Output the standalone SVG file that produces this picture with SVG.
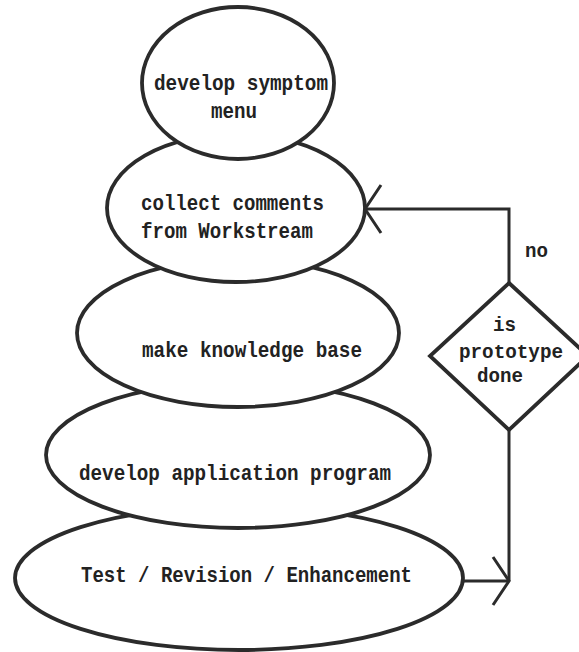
<svg xmlns="http://www.w3.org/2000/svg" width="579" height="652" viewBox="0 0 579 652">
  <style>
    .shape { fill: #ffffff; stroke: #2b2b2b; stroke-width: 3.8; }
    .line { fill: none; stroke: #2b2b2b; stroke-width: 3; }
    .label { font-family: "Liberation Mono", "Courier New", monospace; font-weight: bold; font-size: 22px; fill: #222222; }
    .small { font-size: 20px; }
  </style>
  <defs>
    <marker id="chevron" markerUnits="userSpaceOnUse" viewBox="-20 -30 24 60" refX="0" refY="0" markerWidth="24" markerHeight="60" orient="auto" overflow="visible">
      <path d="M-16,-24 L0,0 L-16,24" fill="none" stroke="#2b2b2b" stroke-width="3"/>
    </marker>
  </defs>

  <!-- stacked ellipses, lowest first so the upper ones sit on top -->
  <g id="node-test">
    <ellipse class="shape" cx="239" cy="578" rx="224" ry="72"/>
    <text class="label" x="81" y="582" textLength="331" lengthAdjust="spacingAndGlyphs">Test / Revision / Enhancement</text>
  </g>
  <g id="node-application">
    <ellipse class="shape" cx="238" cy="455" rx="192" ry="73"/>
    <text class="label" x="79" y="480" textLength="312" lengthAdjust="spacingAndGlyphs">develop application program</text>
  </g>
  <g id="node-knowledge">
    <ellipse class="shape" cx="238" cy="333" rx="161" ry="74"/>
    <text class="label" x="142" y="357" textLength="220" lengthAdjust="spacingAndGlyphs">make knowledge base</text>
  </g>
  <g id="node-comments">
    <ellipse class="shape" cx="236" cy="208" rx="129" ry="74"/>
    <text class="label" x="141" y="210" textLength="183" lengthAdjust="spacingAndGlyphs">collect comments</text>
    <text class="label" x="141" y="238" textLength="172" lengthAdjust="spacingAndGlyphs">from Workstream</text>
  </g>
  <g id="node-symptom">
    <ellipse class="shape" cx="238" cy="83" rx="96" ry="76"/>
    <text class="label" x="154" y="90" textLength="174" lengthAdjust="spacingAndGlyphs">develop symptom</text>
    <text class="label" x="211" y="118" textLength="46" lengthAdjust="spacingAndGlyphs">menu</text>
  </g>

  <!-- decision -->
  <g id="node-decision">
    <polygon class="shape" points="509,283 588,356 509,430 430,356"/>
    <text class="label small" x="493" y="331" textLength="23" lengthAdjust="spacingAndGlyphs">is</text>
    <text class="label small" x="459" y="358" textLength="104" lengthAdjust="spacingAndGlyphs">prototype</text>
    <text class="label small" x="477" y="382" textLength="46" lengthAdjust="spacingAndGlyphs">done</text>
  </g>

  <!-- connectors -->
  <g id="connectors">
    <path class="line" d="M463,581 H509" marker-end="url(#chevron)"/>
    <path class="line" d="M509,581 V430"/>
    <path class="line" d="M509,283 V209 H365" marker-end="url(#chevron)"/>
    <text class="label small" x="525" y="257" textLength="23" lengthAdjust="spacingAndGlyphs">no</text>
  </g>
</svg>
